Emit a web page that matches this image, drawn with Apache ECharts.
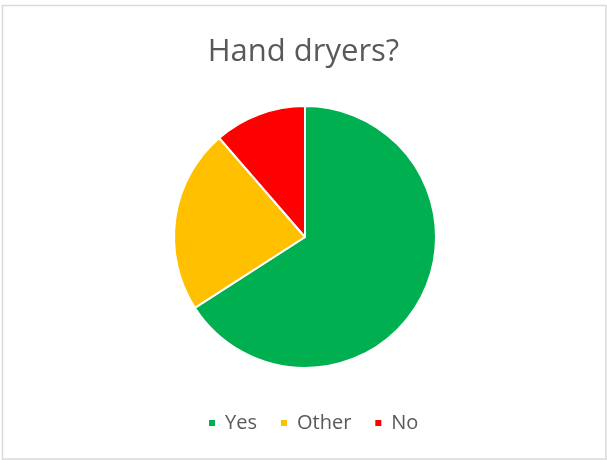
<!DOCTYPE html>
<html>
<head>
<meta charset="utf-8">
<script src="https://cdn.jsdelivr.net/npm/echarts@6/dist/echarts.min.js"></script>
<style>
  html, body { margin: 0; padding: 0; background: #fff; }
  #main { width: 607px; height: 460px; }
</style>
</head>
<body>
<div id="main"></div>
<script>
const chartDom = document.getElementById('main');
const myChart = echarts.init(chartDom);

// answers and counts
let answers = ['Yes', 'Other', 'No'];
let counts = [29, 10, 5];
let colors = ['#00b050', '#ffc000', '#ff0000'];

let option = {
    backgroundColor: '#fff',
    title: {
        text: 'Hand dryers?',
        left: 'center',
        top: 32,
        textStyle: {
            fontFamily: 'Open Sans',
            fontSize: 31,
            fontWeight: 'normal',
            color: '#595959'
        }
    },
    legend: {
        data: answers,
        bottom: 22,
        left: 202,
        padding: 5,
        icon: 'rect',
        itemWidth: 8,
        itemHeight: 8,
        itemGap: 22,
        textStyle: {
            fontFamily: 'Open Sans',
            fontSize: 20,
            color: '#595959',
            padding: [0, 0, 0, 4]
        }
    },
    graphic: [{
        type: 'rect',
        shape: { x: 2.5, y: 5.5, width: 603.5, height: 453.5 },
        style: { fill: 'none', stroke: '#d9d9d9', lineWidth: 1.5 },
        silent: true
    }],
    series: [{
        type: 'pie',
        center: [305, 237],
        radius: 131,
        startAngle: 90,
        clockwise: true,
        label: { show: false },
        labelLine: { show: false },
        emphasis: { disabled: true },
        itemStyle: { borderColor: '#fff', borderWidth: 2 },
        data: answers.map((name, i) => ({
            name: name,
            value: counts[i],
            itemStyle: { color: colors[i] }
        }))
    }]
};

myChart.setOption(option);
</script>
</body>
</html>
